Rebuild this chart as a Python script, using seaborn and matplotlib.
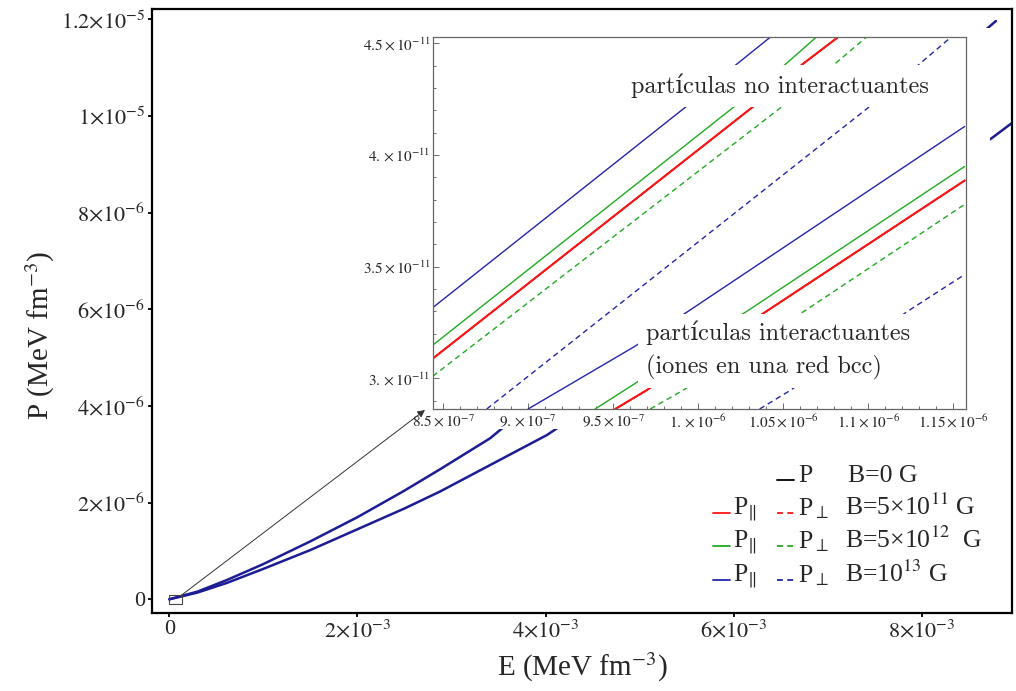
import numpy as np
import pandas as pd
import matplotlib
matplotlib.use("Agg")
import matplotlib.pyplot as plt
from matplotlib.patches import Rectangle
from matplotlib.lines import Line2D
from matplotlib.ticker import FixedLocator, MultipleLocator
import seaborn as sns

# ---------------- data ----------------
# main panel: E (MeV fm^-3) vs P (MeV fm^-3)
E_noint = [0.0, 3e-4, 6.13e-4, 1e-3, 1.5e-3, 2e-3, 2.5e-3, 2.877e-3, 3.408e-3, 8.636e-3, 8.785e-3]
P_noint = [0.0, 1.6e-7, 4.0e-7, 7.3e-7, 1.2e-6, 1.70e-6, 2.25e-6, 2.69e-6, 3.33e-6, 1.1717e-5, 1.1965e-5]
E_int = [0.0, 3e-4, 6.13e-4, 1e-3, 1.5e-3, 2e-3, 2.5e-3, 2.877e-3, 4.014e-3, 8.743e-3, 8.955e-3]
P_int = [0.0, 1.4e-7, 3.4e-7, 6.3e-7, 1.02e-6, 1.45e-6, 1.88e-6, 2.23e-6, 3.40e-6, 9.545e-6, 9.855e-6]

# inset: non interacting particles
E_par_1e13_ni = [8.44e-7, 9.929e-7, 1.0228e-6, 1.0427e-6]
P_par_1e13_ni = [3.317e-11, 4.217e-11, 4.408e-11, 4.530e-11]
E_par_5e12_ni = [8.44e-7, 1.0212e-6, 1.0515e-6, 1.0697e-6]
P_par_5e12_ni = [3.149e-11, 4.217e-11, 4.408e-11, 4.530e-11]
E_par_5e11_ni = [8.44e-7, 1.0323e-6, 1.0615e-6, 1.0825e-6]
P_par_5e11_ni = [3.089e-11, 4.217e-11, 4.408e-11, 4.530e-11]
E_perp_5e12_ni = [8.44e-7, 1.0493e-6, 1.0803e-6, 1.0991e-6]
P_perp_5e12_ni = [3.01e-11, 4.217e-11, 4.408e-11, 4.530e-11]
E_perp_1e13_ni = [8.757e-7, 1.1007e-6, 1.1301e-6, 1.1489e-6]
P_perp_1e13_ni = [2.863e-11, 4.217e-11, 4.408e-11, 4.530e-11]

# inset: interacting particles (ions in a bcc lattice)
E_par_1e13_i = [9.0e-7, 9.624e-7, 9.956e-7, 1.1566e-6]
P_par_1e13_i = [2.863e-11, 3.142e-11, 3.308e-11, 4.128e-11]
E_par_5e12_i = [9.394e-7, 9.624e-7, 1.0301e-6, 1.1566e-6]
P_par_5e12_i = [2.863e-11, 2.975e-11, 3.308e-11, 3.949e-11]
E_par_5e11_i = [9.512e-7, 9.6925e-7, 1.0416e-6, 1.1566e-6]
P_par_5e11_i = [2.863e-11, 2.945e-11, 3.308e-11, 3.886e-11]
E_perp_5e12_i = [9.718e-7, 9.907e-7, 1.0637e-6, 1.1566e-6]
P_perp_5e12_i = [2.863e-11, 2.945e-11, 3.308e-11, 3.779e-11]
E_perp_1e13_i = [1.0361e-6, 1.0538e-6, 1.1246e-6, 1.1566e-6]
P_perp_1e13_i = [2.863e-11, 2.945e-11, 3.308e-11, 3.465e-11]

main_xticks = [0, 2e-3, 4e-3, 6e-3, 8e-3]
main_xlabels = ["0", r"$2{\times}10^{-3}$", r"$4{\times}10^{-3}$", r"$6{\times}10^{-3}$", r"$8{\times}10^{-3}$"]
main_yticks = [0, 2e-6, 4e-6, 6e-6, 8e-6, 1e-5, 1.2e-5]
main_ylabels = ["0", r"$2{\times}10^{-6}$", r"$4{\times}10^{-6}$", r"$6{\times}10^{-6}$",
                r"$8{\times}10^{-6}$", r"$1{\times}10^{-5}$", r"$1.2{\times}10^{-5}$"]
inset_xticks = [8.5e-7, 9e-7, 9.5e-7, 1e-6, 1.05e-6, 1.1e-6, 1.15e-6]
inset_xlabels = [r"$8.5\times10^{-7}$", r"$9.\times10^{-7}$", r"$9.5\times10^{-7}$", r"$1.\times10^{-6}$",
                 r"$1.05\times10^{-6}$", r"$1.1\times10^{-6}$", r"$1.15\times10^{-6}$"]
inset_yticks = [3e-11, 3.5e-11, 4e-11, 4.5e-11]
inset_ylabels = [r"$3.\times10^{-11}$", r"$3.5\times10^{-11}$", r"$4.\times10^{-11}$", r"$4.5\times10^{-11}$"]

# ---------------- style ----------------
sns.set_theme(style="white")
plt.rcParams["font.family"] = ["Liberation Serif", "DejaVu Serif"]
plt.rcParams["mathtext.fontset"] = "stix"
plt.rcParams["lines.scale_dashes"] = False
plt.rcParams["axes.unicode_minus"] = True

NAVY = "#1c1c94"
BLUE = "#2424ac"
GREEN = "#1faa1f"
RED = "#ff1515"
DASH = (0, (4.0, 2.8))

fig = plt.figure(figsize=(10.16, 6.91), dpi=100)
ax = fig.add_axes([0.1496, 0.1129, 0.8464, 0.8741])

# main curves
sns.lineplot(x=E_noint, y=P_noint, ax=ax, color=NAVY, linewidth=1.8, sort=False, estimator=None, zorder=2)
sns.lineplot(x=E_int, y=P_int, ax=ax, color=NAVY, linewidth=1.8, sort=False, estimator=None, zorder=2)

ax.set_xlim(-1.84e-4, 8.955e-3)
ax.set_ylim(-2.83e-7, 1.2214e-5)
ax.xaxis.set_major_locator(FixedLocator(main_xticks))
ax.set_xticklabels(main_xlabels)
ax.yaxis.set_major_locator(FixedLocator(main_yticks))
ax.set_yticklabels(main_ylabels)
ax.tick_params(direction="out", length=3, width=1.3, labelsize=16, pad=2, color="black",
               bottom=True, left=True)
for s in ax.spines.values():
    s.set_color("black")
    s.set_linewidth(1.6)
ax.set_xlabel(r"E (MeV fm$^{-3}$)", fontsize=21)
ax.set_ylabel(r"P (MeV fm$^{-3}$)", fontsize=21)
ax.xaxis.set_label_coords(0.5, -0.062)
ax.yaxis.set_label_coords(-0.11, 0.46)

# small box at origin and the arrow to the inset
ax.add_patch(Rectangle((0, -9.5e-8), 1.32e-4, 1.85e-7, fill=False, ec="#444444", lw=0.8, zorder=4))

# white background of the inset graphic
ax.add_patch(Rectangle((0.3494, 0.3792), 0.6253, 0.5803, transform=fig.transFigure,
                       facecolor="white", edgecolor="none", zorder=5, clip_on=False))
ax.annotate("", xy=(0.4183, 0.4067), xycoords="figure fraction",
            xytext=(1.32e-4, 8.9e-8), textcoords="data",
            arrowprops=dict(arrowstyle="-|>", color="#333333", lw=0.7,
                            shrinkA=0, shrinkB=0, mutation_scale=11),
            annotation_clip=False, zorder=6)

# ---------------- inset ----------------
axi = fig.add_axes([0.4265, 0.4081, 0.5243, 0.5388])
inset_lines = [
    (E_par_1e13_ni, P_par_1e13_ni, BLUE, "-", 1.0),
    (E_par_5e12_ni, P_par_5e12_ni, GREEN, "-", 1.0),
    (E_par_5e11_ni, P_par_5e11_ni, "black", "-", 1.0),
    (E_par_5e11_ni, P_par_5e11_ni, RED, "-", 1.5),
    (E_par_5e11_ni, P_par_5e11_ni, RED, DASH, 1.0),
    (E_perp_5e12_ni, P_perp_5e12_ni, GREEN, DASH, 1.0),
    (E_perp_1e13_ni, P_perp_1e13_ni, BLUE, DASH, 1.0),
    (E_par_1e13_i, P_par_1e13_i, BLUE, "-", 1.0),
    (E_par_5e12_i, P_par_5e12_i, GREEN, "-", 1.0),
    (E_par_5e11_i, P_par_5e11_i, "black", "-", 1.0),
    (E_par_5e11_i, P_par_5e11_i, RED, "-", 1.5),
    (E_par_5e11_i, P_par_5e11_i, RED, DASH, 1.0),
    (E_perp_5e12_i, P_perp_5e12_i, GREEN, DASH, 1.0),
    (E_perp_1e13_i, P_perp_1e13_i, BLUE, DASH, 1.0),
]
for xs, ys, col, ls, lw in inset_lines:
    sns.lineplot(x=xs, y=ys, ax=axi, color=col, linestyle=ls, linewidth=lw,
                 sort=False, estimator=None)

axi.set_xlim(8.443e-7, 1.1574e-6)
axi.set_ylim(2.863e-11, 4.53e-11)
axi.xaxis.set_major_locator(FixedLocator(inset_xticks))
axi.set_xticklabels(inset_xlabels)
axi.xaxis.set_minor_locator(MultipleLocator(1e-8))
axi.yaxis.set_major_locator(FixedLocator(inset_yticks))
axi.set_yticklabels(inset_ylabels)
axi.yaxis.set_minor_locator(MultipleLocator(1e-12))
axi.tick_params(which="both", direction="in", color="#555555", width=0.6,
                bottom=True, left=True, top=False, right=False)
axi.tick_params(which="major", length=4.5, labelsize=11, pad=3)
axi.tick_params(which="minor", length=2.5)
axi.tick_params(axis="y", which="major", pad=2)
for s in axi.spines.values():
    s.set_color("#666666")
    s.set_linewidth(0.9)
axi.set_xlabel("")
axi.set_ylabel("")

txt_font = ["cmr10", "DejaVu Serif"]
axi.text(0.371, 0.868, "partículas no interactuantes", transform=axi.transAxes,
         fontsize=17.5, family=txt_font, ha="left", va="center", zorder=10,
         bbox=dict(boxstyle="square,pad=0.35", facecolor="white", edgecolor="none"))
axi.text(0.40, 0.158, "partículas interactuantes\n(iones en una red bcc)", transform=axi.transAxes,
         fontsize=17.5, family=txt_font, ha="left", va="center", linespacing=1.5, zorder=10,
         bbox=dict(boxstyle="square,pad=0.35", facecolor="white", edgecolor="none"))

# ---------------- legend (table-like, as in the original) ----------------
W, H = 1016.0, 691.0


def fx(px):
    return px / W


def fy(py):
    return 1 - py / H


LEG_FS = 18.5
rows = [
    (482, None, "black", "B=0 G", 848),
    (515, RED, RED, r"B=5×10$^{11}$ G", 845),
    (548, GREEN, GREEN, r"B=5×10$^{12}$  G", 845),
    (582, BLUE, BLUE, r"B=10$^{13}$ G", 845),
]
for base, par_col, perp_col, label, bx in rows:
    yl = fy(base - 2)
    if par_col is not None:
        fig.add_artist(Line2D([fx(713), fx(730)], [yl, yl], color=par_col, lw=1.3,
                              transform=fig.transFigure))
        fig.text(fx(733), fy(base), r"P$_{\Vert}$", fontsize=LEG_FS, va="baseline", ha="left")
        fig.add_artist(Line2D([fx(777), fx(794)], [yl, yl], color=perp_col, lw=1.3,
                              linestyle=(0, (4.2, 3.2)), transform=fig.transFigure))
        fig.text(fx(798), fy(base), r"P$_{\perp}$", fontsize=LEG_FS, va="baseline", ha="left")
    else:
        fig.add_artist(Line2D([fx(777), fx(794)], [yl, yl], color=perp_col, lw=1.3,
                              transform=fig.transFigure))
        fig.text(fx(798), fy(base), "P", fontsize=LEG_FS, va="baseline", ha="left")
    fig.text(fx(bx), fy(base), label, fontsize=LEG_FS, va="baseline", ha="left")

fig.savefig("out.png", dpi=100)
